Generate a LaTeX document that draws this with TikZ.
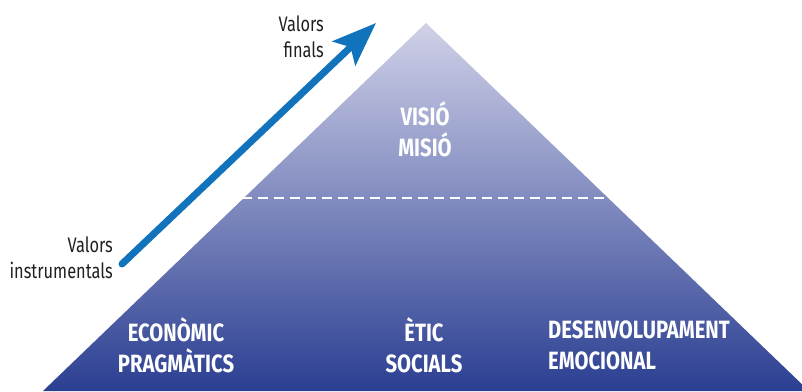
\documentclass[tikz,border=0pt]{standalone}
\usepackage{fontspec}
\setmainfont{Fira Sans}[FakeStretch=0.78, BoldFeatures={FakeStretch=0.81}]
\usepackage{tikz}
\usetikzlibrary{arrows.meta,positioning,calc}
\definecolor{pyrtop}{RGB}{208,209,232}
\definecolor{pyrmid}{RGB}{143,147,199}
\definecolor{pyrbot}{RGB}{43,63,146}
\definecolor{arrowcolor}{RGB}{18,115,189}
\definecolor{txtcolor}{RGB}{35,31,32}
\tikzset{
  levellbl/.style={text=white, inner sep=0pt,
    font=\bfseries\fontsize{25}{31}\selectfont},
  sidelbl/.style={text=txtcolor, inner sep=0pt, align=right,
    font=\fontsize{21}{26}\selectfont},
  valueln/.style={-{Stealth[length=44pt, width=33pt, inset=9pt]},
    line width=7pt, line cap=round, arrowcolor},
  splitln/.style={white, line width=2pt, dash pattern=on 10pt off 6pt},
}

\begin{document}
\begin{tikzpicture}[x=1pt, y=1pt]
    \useasboundingbox (0,0) rectangle (802,391);
    \clip (0,0) rectangle (802,391);
    % pyramid
    \coordinate (apex) at (426,368);
    \coordinate (baseL) at (43,0);
    \coordinate (baseR) at (809,0);
    \shade[top color=pyrtop, middle color=pyrmid, bottom color=pyrbot]
      (apex) -- (baseL) -- (baseR) -- cycle;
    \coordinate (splitL) at (242,193);
    \coordinate (splitR) at (605,193);
    \draw[splitln] (splitL) -- (splitR);
    % levels
    \node[levellbl, align=center] (vision) at (425,262) {VISIÓ\\MISIÓ};
    \node[levellbl, align=center] (econ) at (176,46) {ECONÒMIC\\PRAGMÀTICS};
    \node[levellbl, align=center] (ethic) at (424,46) {ÈTIC\\SOCIALS};
    \node[levellbl, align=left, anchor=west] (emot) at (548,46)
      {DESENVOLUPAMENT\\EMOCIONAL};
    % values arrow
    \node[sidelbl, anchor=east] (instr) at (113,133) {Valors\\instrumentals};
    \node[sidelbl, anchor=east] (final) at (324,354) {Valors\\finals};
    \coordinate (arrowS) at (122,127);
    \coordinate (arrowE) at (376,368);
    \draw[valueln] (arrowS) -- (arrowE);
\end{tikzpicture}
\end{document}
